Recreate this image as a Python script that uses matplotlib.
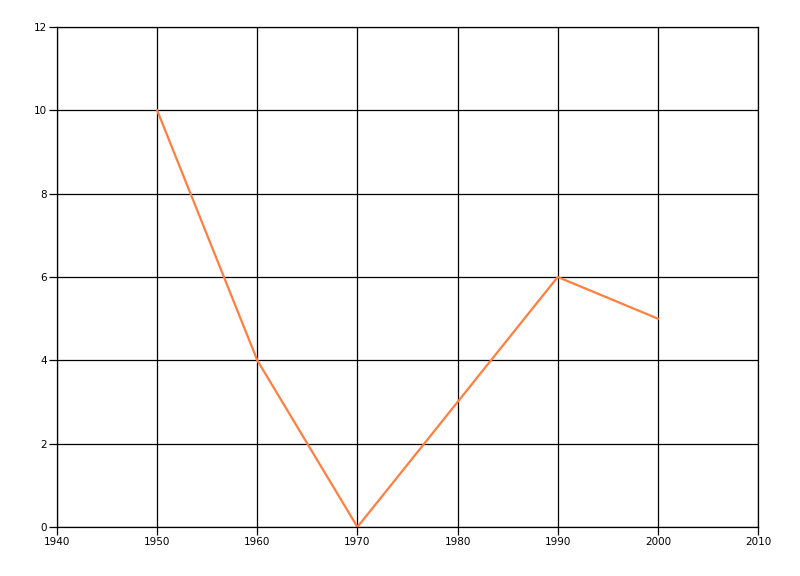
import matplotlib
matplotlib.use("Agg")
import matplotlib.pyplot as plt

years = [1950, 1960, 1970, 1990, 2000]
values = [10, 4, 0, 6, 5]
x_ticks = [1940, 1950, 1960, 1970, 1980, 1990, 2000, 2010]
y_ticks = [0, 2, 4, 6, 8, 10, 12]

fig = plt.figure(figsize=(8, 5.76), dpi=100)
ax = fig.add_axes([57/800, 49/576, 701/800, 500/576])
ax.set_xlim(1940, 2010)
ax.set_ylim(0, 12)
ax.set_xticks(x_ticks)
ax.set_yticks(y_ticks)
ax.grid(True, color="black", linewidth=0.9)
ax.set_axisbelow(True)
for s in ax.spines.values():
    s.set_color("black")
    s.set_linewidth(0.9)
ax.tick_params(length=6, width=0.9, labelsize=7.5, colors="black", pad=1)
ax.plot(years, values, color="#FF7F3F", linewidth=1.6)
fig.savefig("out.png", dpi=100)
